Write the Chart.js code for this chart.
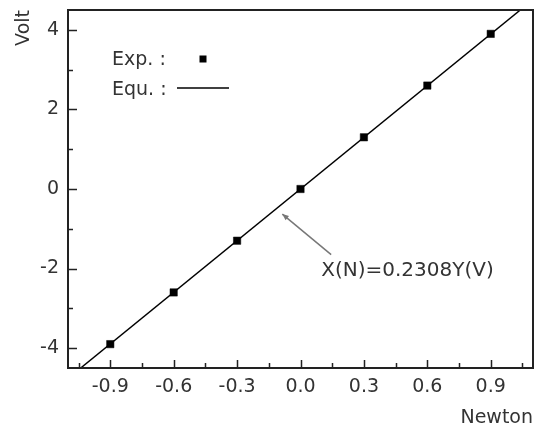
<!DOCTYPE html>
<html>
<head>
<meta charset="utf-8">
<script src="https://cdn.jsdelivr.net/npm/chart.js@4.4.1/dist/chart.umd.min.js"></script>
<style>
  html, body { margin: 0; padding: 0; background: #fff; }
  #wrap { width: 535px; height: 432px; }
</style>
</head>
<body>
<div id="wrap"><canvas id="forceChart"></canvas></div>
<script>
// measured points: force (N) against sensor output (V)
const forceN = [-0.9, -0.6, -0.3, 0.0, 0.3, 0.6, 0.9];
const voltV = [-3.9, -2.6, -1.3, 0.0, 1.3, 2.6, 3.9];

// fitted line X(N)=0.2308Y(V), ends read where it meets the frame
const fitN = [-1.04, 1.04];
const fitV = [-4.5, 4.5];

const xTicks = [-0.9, -0.6, -0.3, 0.0, 0.3, 0.6, 0.9];
const xMinorTicks = [-1.05, -0.75, -0.45, -0.15, 0.15, 0.45, 0.75, 1.05];
const yTicks = [-4, -2, 0, 2, 4];
const yMinorTicks = [-3, -1, 1, 3];

const fitLabel = "X(N)=0.2308Y(V)";

const FONT = "DejaVu Sans";
const TEXT = "#333";

// no extra room for half tick labels, the frame sits where the reference has it
function noEdgePadding(s) {
  s.paddingTop = 0;
  s.paddingBottom = 0;
  s.paddingLeft = 0;
  s.paddingRight = 0;
}

// frame, inward tick marks, legend and the arrow note
const decorations = {
  id: "decorations",
  afterDatasetsDraw(chart) {
    const { ctx, chartArea: a, scales: { x, y } } = chart;
    ctx.save();
    ctx.strokeStyle = "#222";
    ctx.lineWidth = 1.5;
    ctx.beginPath();
    xTicks.forEach(v => {
      const px = Math.round(x.getPixelForValue(v)) + 0.5;
      ctx.moveTo(px, a.bottom); ctx.lineTo(px, a.bottom - 8);
    });
    xMinorTicks.forEach(v => {
      const px = Math.round(x.getPixelForValue(v)) + 0.5;
      ctx.moveTo(px, a.bottom); ctx.lineTo(px, a.bottom - 5);
    });
    yTicks.forEach(v => {
      const py = Math.round(y.getPixelForValue(v)) + 0.5;
      ctx.moveTo(a.left, py); ctx.lineTo(a.left + 9, py);
    });
    yMinorTicks.forEach(v => {
      const py = Math.round(y.getPixelForValue(v)) + 0.5;
      ctx.moveTo(a.left, py); ctx.lineTo(a.left + 5, py);
    });
    ctx.stroke();

    ctx.lineWidth = 2;
    ctx.strokeRect(a.left, a.top, a.right - a.left, a.bottom - a.top);

    // legend
    ctx.fillStyle = TEXT;
    ctx.font = "19px '" + FONT + "'";
    ctx.textAlign = "left";
    ctx.textBaseline = "middle";
    ctx.fillText("Exp. :", 112, 60);
    ctx.fillText("Equ. :", 112, 90);
    ctx.fillStyle = "#000";
    ctx.fillRect(199.5, 55.5, 7, 7);
    ctx.strokeStyle = "#000";
    ctx.lineWidth = 1.5;
    ctx.beginPath();
    ctx.moveTo(177, 88); ctx.lineTo(229, 88);
    ctx.stroke();

    // arrow pointing at the fitted line
    const tipX = x.getPixelForValue(-0.086), tipY = y.getPixelForValue(-0.63);
    const tailX = x.getPixelForValue(0.145), tailY = y.getPixelForValue(-1.65);
    const ang = Math.atan2(tipY - tailY, tipX - tailX);
    ctx.strokeStyle = "#777";
    ctx.fillStyle = "#777";
    ctx.lineWidth = 1.5;
    ctx.beginPath();
    ctx.moveTo(tailX, tailY); ctx.lineTo(tipX, tipY);
    ctx.stroke();
    ctx.beginPath();
    ctx.moveTo(tipX, tipY);
    ctx.lineTo(tipX - 7 * Math.cos(ang - 0.4), tipY - 7 * Math.sin(ang - 0.4));
    ctx.lineTo(tipX - 7 * Math.cos(ang + 0.4), tipY - 7 * Math.sin(ang + 0.4));
    ctx.closePath();
    ctx.fill();

    ctx.fillStyle = TEXT;
    ctx.font = "20px '" + FONT + "'";
    ctx.fillText(fitLabel, x.getPixelForValue(0.098), y.getPixelForValue(-2.05));
    ctx.restore();
  }
};

new Chart(document.getElementById("forceChart"), {
  type: "scatter",
  data: {
    datasets: [
      {
        label: "Exp.",
        data: forceN.map((n, i) => ({ x: n, y: voltV[i] })),
        pointStyle: "rect",
        pointRadius: 5.2,
        backgroundColor: "#000",
        borderColor: "#000",
        borderWidth: 0.5
      },
      {
        label: "Equ.",
        data: fitN.map((n, i) => ({ x: n, y: fitV[i] })),
        showLine: true,
        pointRadius: 0,
        borderColor: "#000",
        borderWidth: 1.5
      }
    ]
  },
  options: {
    responsive: true,
    maintainAspectRatio: false,
    animation: false,
    layout: { autoPadding: false, padding: { top: 10, right: 2, left: 0, bottom: 0 } },
    plugins: {
      legend: { display: false },
      tooltip: { enabled: false }
    },
    scales: {
      x: {
        type: "linear",
        min: -1.1,
        max: 1.1,
        afterBuildTicks: s => { s.ticks = xTicks.map(v => ({ value: v })); },
        afterFit: s => { s.height = 64; noEdgePadding(s); },
        grid: { display: false, drawTicks: false },
        border: { display: false },
        ticks: {
          padding: 8,
          autoSkip: false,
          maxRotation: 0,
          color: TEXT,
          font: { family: FONT, size: 19 },
          callback: v => v.toFixed(1)
        },
        title: {
          display: true,
          text: "Newton",
          align: "end",
          color: TEXT,
          font: { family: FONT, size: 19 },
          padding: { top: 0, bottom: 3 }
        }
      },
      y: {
        type: "linear",
        min: -4.5,
        max: 4.5,
        afterBuildTicks: s => { s.ticks = yTicks.map(v => ({ value: v })); },
        afterFit: s => { s.width = 68; noEdgePadding(s); },
        grid: { display: false, drawTicks: false },
        border: { display: false },
        ticks: {
          padding: 9,
          color: TEXT,
          font: { family: FONT, size: 19 },
          callback: v => String(v)
        },
        title: {
          display: true,
          text: "Volt",
          align: "end",
          color: TEXT,
          font: { family: FONT, size: 19 },
          padding: { top: 13, bottom: 0 }
        }
      }
    }
  },
  plugins: [decorations]
});
</script>
</body>
</html>
